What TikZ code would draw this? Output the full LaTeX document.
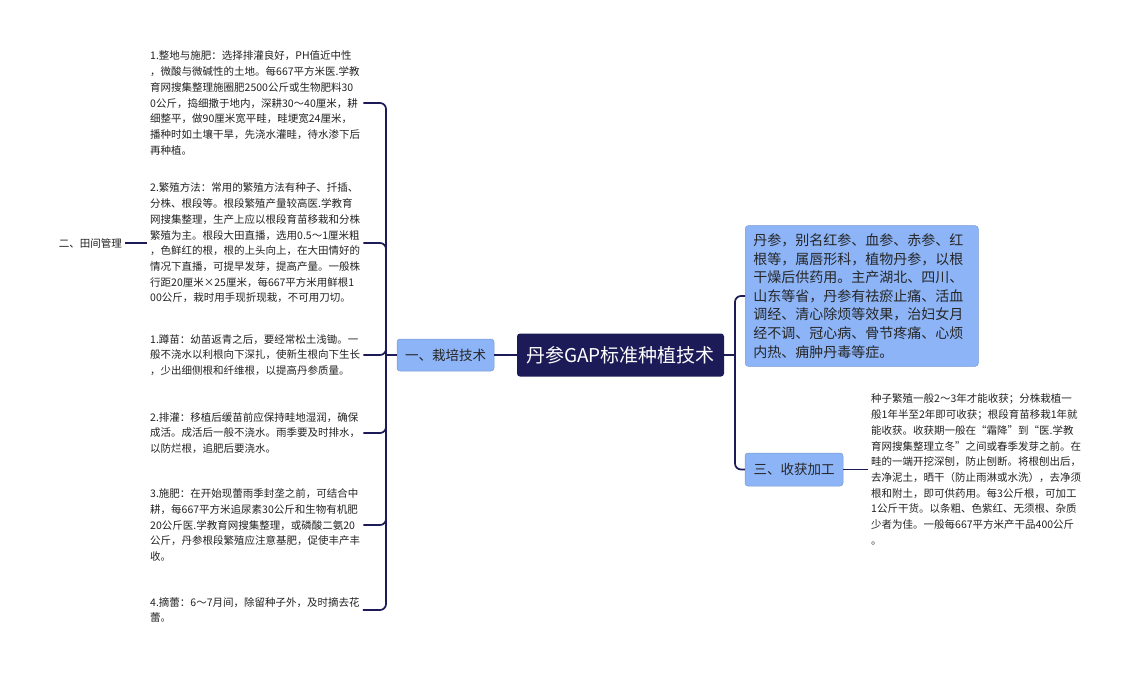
\documentclass[tikz,border=0pt]{standalone}
\usepackage{fontspec}
\setmainfont{Noto Sans CJK SC}
\definecolor{navy}{HTML}{1C1B57}
\definecolor{boxblue}{HTML}{8DB4F7}
\definecolor{leaftext}{HTML}{222222}
\begin{document}
\begin{tikzpicture}[x=1pt,y=-1pt,
  rootbox/.style={fill=navy,text=white,rounded corners=3pt,minimum width=207pt,minimum height=43pt,inner sep=0pt,font=\fontsize{19}{22}\selectfont},
  branchbox/.style={fill=boxblue,draw=boxblue!85!black,line width=.5pt,rounded corners=3pt,inner sep=0pt,text=black!85,font=\fontsize{13.5}{16}\selectfont},
  leaf/.style={align=left,inner sep=3pt,text=leaftext,font=\fontsize{10.5}{15.7}\selectfont},
  link/.style={draw=navy,line width=1.7pt,rounded corners=6pt}]
\useasboundingbox (0,0) rectangle (1143,675);
% centre and main branches
\node[rootbox] (root) at (620.5,355) {丹参GAP标准种植技术};
\node[branchbox,minimum width=97pt,minimum height=32pt] (culture) at (445.5,355) {一、栽培技术};
\node[branchbox,minimum width=98pt,minimum height=33pt] (harvest) at (794,469.5) {三、收获加工};
\node[branchbox,text width=217pt,inner xsep=8pt,inner ysep=8pt,align=left,anchor=west,font=\fontsize{14}{18.6}\selectfont] (about) at (745,296) {丹参，别名红参、血参、赤参、红\\根等，属唇形科，植物丹参，以根\\干燥后供药用。主产湖北、四川、\\山东等省，丹参有祛瘀止痛、活血\\调经、清心除烦等效果，治妇女月\\经不调、冠心病、骨节疼痛、心烦\\内热、痈肿丹毒等症。};
% leaves of the left branch
\node[leaf,anchor=west] (soil) at (147,103) {1.整地与施肥：选择排灌良好，PH值近中性\\，微酸与微碱性的土地。每667平方米医.学教\\育网搜集整理施圈肥2500公斤或生物肥料30\\0公斤，捣细撒于地内，深耕30～40厘米，耕\\细整平，做90厘米宽平畦，畦埂宽24厘米，\\播种时如土壤干旱，先浇水灌畦，待水渗下后\\再种植。};
\node[leaf,anchor=west] (breed) at (147,243) {2.繁殖方法：常用的繁殖方法有种子、扦插、\\分株、根段等。根段繁殖产量较高医.学教育\\网搜集整理，生产上应以根段育苗移栽和分株\\繁殖为主。根段大田直播，选用0.5～1厘米粗\\，色鲜红的根，根的上头向上，在大田情好的\\情况下直播，可提早发芽，提高产量。一般株\\行距20厘米×25厘米，每667平方米用鲜根1\\00公斤，栽时用手现折现栽，不可用刀切。};
\node[leaf,anchor=west] (squat) at (147,355) {1.蹲苗：幼苗返青之后，要经常松土浅锄。一\\般不浇水以利根向下深扎，使新生根向下生长\\，少出细侧根和纤维根，以提高丹参质量。};
\node[leaf,anchor=west] (water) at (147,433) {2.排灌：移植后缓苗前应保持畦地湿润，确保\\成活。成活后一般不浇水。雨季要及时排水，\\以防烂根，追肥后要浇水。};
\node[leaf,anchor=west] (manure) at (147,525) {3.施肥：在开始现蕾雨季封垄之前，可结合中\\耕，每667平方米追尿素30公斤和生物有机肥\\20公斤医.学教育网搜集整理，或磷酸二氨20\\公斤，丹参根段繁殖应注意基肥，促使丰产丰\\收。};
\node[leaf,anchor=west] (bud) at (147,610) {4.摘蕾：6～7月间，除留种子外，及时摘去花\\蕾。};
\node[leaf,anchor=east] (field) at (125,243) {二、田间管理};
% leaf of the right branch
\node[leaf,anchor=west] (harvtext) at (868,469.5) {种子繁殖一般2～3年才能收获；分株栽植一\\般1年半至2年即可收获；根段育苗移栽1年就\\能收获。收获期一般在“霜降”到“医.学教\\育网搜集整理立冬”之间或春季发芽之前。在\\畦的一端开挖深刨，防止刨断。将根刨出后，\\去净泥土，晒干（防止雨淋或水洗），去净须\\根和附土，即可供药用。每3公斤根，可加工\\1公斤干货。以条粗、色紫红、无须根、杂质\\少者为佳。一般每667平方米产干品400公斤\\。};
% connectors
\coordinate (lbus) at (386,355);
\coordinate (rbus) at (735,355);
\draw[link] (root.west) -- (culture.east);
\draw[link] (culture.west) -- (lbus);
\foreach \n in {soil,breed,squat,water,manure,bud}\draw[link] (lbus) |- (\n.east);
\draw[link] (field.east) -- (breed.west);
\draw[link] (root.east) -- (rbus);
\draw[link] (rbus) |- (about.west);
\draw[link] (rbus) |- (harvest.west);
\draw[link] (harvest.east) -- (harvtext.west);
\end{tikzpicture}
\end{document}
